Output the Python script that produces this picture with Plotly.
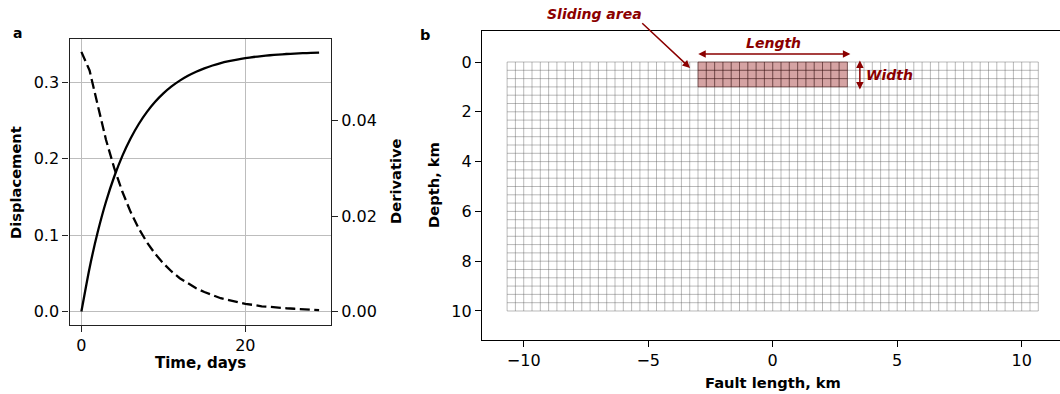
import plotly.graph_objects as go

# ---------------- data ----------------
time_days = list(range(30))
displacement = [0.0, 0.0570, 0.1042, 0.1435, 0.1762, 0.2035, 0.2262, 0.2452, 0.2610, 0.2742,
                0.2852, 0.2943, 0.3019, 0.3083, 0.3136, 0.3180, 0.3217, 0.3248, 0.3273, 0.3295,
                0.3313, 0.3328, 0.3340, 0.3351, 0.3360, 0.3367, 0.3373, 0.3378, 0.3382, 0.3386]
derivative = [0.0544, 0.0505, 0.0432, 0.0360, 0.0301, 0.0251, 0.0209, 0.0174, 0.0145, 0.0121,
              0.0101, 0.0084, 0.0070, 0.0059, 0.0049, 0.0041, 0.0034, 0.0028, 0.0024, 0.0020,
              0.0016, 0.0014, 0.0011, 0.0010, 0.0008, 0.0007, 0.0006, 0.0005, 0.0004, 0.0003]

disp_ticks = [0.0, 0.1, 0.2, 0.3]
deriv_ticks = [0.00, 0.02, 0.04]
time_ticks = [0, 20]

# fault grid: 64 x 30 cells of 1/3 km
n_cols = 64
n_rows = 30
cell_km = 1.0 / 3.0
x_start = -32.0 / 3.0
sliding_x = [-3.0, 3.0]
sliding_depth = [0.0, 1.0]
fault_xticks = [-10, -5, 0, 5, 10]
depth_ticks = [0, 2, 4, 6, 8, 10]

W, H = 1060, 394
def px(x):
    return x / W
def py(y):
    return 1 - y / H

DARKRED = "#8B0000"
FONT = "DejaVu Sans"

fig = go.Figure()

# ---------- panel a ----------
fig.add_trace(go.Scatter(x=time_days, y=displacement, mode="lines",
                         line=dict(color="black", width=2.3, shape="spline", smoothing=0.6),
                         xaxis="x", yaxis="y", showlegend=False))
fig.add_trace(go.Scatter(x=time_days, y=derivative, mode="lines",
                         line=dict(color="black", width=2.3, dash="10px,4.5px"),
                         xaxis="x", yaxis="y2", showlegend=False))

# ---------- panel b ----------
gx, gy = [], []
for i in range(n_cols + 1):
    xv = x_start + i * cell_km
    gx += [xv, xv, None]
    gy += [0, n_rows * cell_km, None]
for j in range(n_rows + 1):
    yv = j * cell_km
    gx += [x_start, x_start + n_cols * cell_km, None]
    gy += [yv, yv, None]
fig.add_trace(go.Scatter(x=gx, y=gy, mode="lines",
                         line=dict(color="rgba(90,90,90,0.42)", width=1),
                         xaxis="x2", yaxis="y3", showlegend=False, hoverinfo="skip"))

# darker cell edges inside the sliding patch
sx, sy = [], []
n_px = int(round((sliding_x[1] - sliding_x[0]) / cell_km))
n_py = int(round((sliding_depth[1] - sliding_depth[0]) / cell_km))
for i in range(n_px + 1):
    xv = sliding_x[0] + i * cell_km
    sx += [xv, xv, None]
    sy += [sliding_depth[0], sliding_depth[1], None]
for j in range(n_py + 1):
    yv = sliding_depth[0] + j * cell_km
    sx += [sliding_x[0], sliding_x[1], None]
    sy += [yv, yv, None]
fig.add_trace(go.Scatter(x=sx, y=sy, mode="lines",
                         line=dict(color="rgba(70,10,10,0.45)", width=1),
                         xaxis="x2", yaxis="y3", showlegend=False, hoverinfo="skip"))

fig.add_shape(type="rect", xref="x2", yref="y3",
              x0=sliding_x[0], x1=sliding_x[1], y0=sliding_depth[0], y1=sliding_depth[1],
              fillcolor="rgba(139,0,0,0.36)", line=dict(width=0), layer="below")

axis_common = dict(showline=True, linecolor="#222", linewidth=1.3, ticks="outside",
                   ticklen=6, tickwidth=1.2, tickcolor="#222",
                   tickfont=dict(family=FONT, size=16, color="black"), zeroline=False)

fig.update_layout(
    width=W, height=H, margin=dict(l=0, r=0, t=0, b=0),
    plot_bgcolor="white", paper_bgcolor="white",
    xaxis=dict(domain=[px(69.5), px(331)], range=[-1.45, 30.45], tickvals=time_ticks,
               showgrid=True, gridcolor="#bdbdbd", gridwidth=1.3, mirror=True,
               anchor="y", **axis_common),
    yaxis=dict(domain=[py(324.5), py(38.5)], range=[-0.017, 0.357], tickvals=disp_ticks,
               tickformat=".1f", showgrid=True, gridcolor="#bdbdbd", gridwidth=1.3,
               mirror=True, anchor="x", **axis_common),
    yaxis2=dict(overlaying="y", side="right", anchor="x", range=[-0.0027, 0.0572],
                tickvals=deriv_ticks, tickformat=".2f", showgrid=False,
                **{k: v for k, v in axis_common.items() if k != "showline"}, showline=False),
    xaxis2=dict(domain=[px(482), 1.0], range=[-11.675, 11.538], tickvals=fault_xticks,
                showgrid=False, mirror=True, anchor="y3",
                **{**axis_common, "linecolor": "black", "tickcolor": "black"}),
    yaxis3=dict(domain=[py(340), py(31)], range=[11.165, -1.245], tickvals=depth_ticks,
                showgrid=False, mirror=False, anchor="x2",
                **{**axis_common, "linecolor": "black", "tickcolor": "black"}),
)

def lab(text, x, y, size=14.7, angle=0, color="black", italic=False, family=FONT,
        xanchor="center"):
    t = "<b>" + text + "</b>"
    if italic:
        t = "<i>" + t + "</i>"
    fig.add_annotation(text=t, x=px(x), y=py(y), xref="paper", yref="paper",
                       showarrow=False, textangle=angle, xanchor=xanchor, yanchor="middle",
                       font=dict(family=family, size=size, color=color))

lab("a", 17, 33, size=14)
lab("b", 425, 35, size=14.5)
lab("Displacement", 15, 183, angle=-90)
lab("Derivative", 395, 181, angle=-90)
lab("Time, days", 200.5, 363, size=15)
lab("Depth, km", 433, 185, angle=-90)
lab("Fault length, km", 773, 382)

# annotations in panel b
lab("Sliding area", 594, 14, size=14, color=DARKRED, italic=True)
lab("Length", 773, 43, size=14, color=DARKRED, italic=True)
lab("Width", 864, 75, size=14, color=DARKRED, italic=True, xanchor="left")

def arrow(x0, y0, x1, y1, both=False):
    fig.add_annotation(x=x1, y=y1, ax=x0, ay=y0, xref="x2", yref="y3", axref="x2", ayref="y3",
                       text="", showarrow=True, arrowhead=2, arrowsize=1, arrowwidth=1.5,
                       arrowcolor=DARKRED, arrowside="end+start" if both else "end",
                       startarrowhead=2, startarrowsize=1)

arrow(-5.3, -1.61, -3.32, 0.24)
arrow(-3.05, -0.32, 3.12, -0.32, both=True)
arrow(3.5, -0.12, 3.5, 1.1, both=True)

fig.write_html("out.html", config={"displayModeBar": False},
               post_script="document.body.style.margin='0';document.body.style.padding='0';document.body.style.overflow='hidden';window.dispatchEvent(new Event('resize'));")
